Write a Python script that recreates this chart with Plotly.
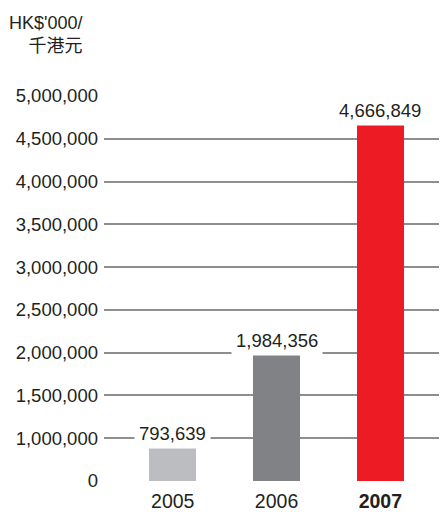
import plotly.graph_objects as go

# data
years = ['2005', '2006', '2007']
revenue = [793639, 1984356, 4666849]  # HK$'000
bar_colors = ['#BCBDC0', '#808285', '#ED1C24']
tick_values = [0, 1000000, 1500000, 2000000, 2500000, 3000000, 3500000, 4000000, 4500000, 5000000]
tick_labels = ['0', '1,000,000', '1,500,000', '2,000,000', '2,500,000', '3,000,000',
               '3,500,000', '4,000,000', '4,500,000', '5,000,000']
year_labels = ['2005', '2006', '<b>2007</b>']


def to_axis(v):
    # broken axis: 0-1,000,000 takes one step, then one step per 500,000
    if v <= 1000000:
        return v / 1000000
    return 1 + (v - 1000000) / 500000


FONT = 'Liberation Sans, Arial, Helvetica, sans-serif'
TEXT_COLOR = '#231F20'

ys = [to_axis(v) for v in revenue]

fig = go.Figure()
fig.add_trace(
    go.Bar(
        x=[0, 1, 2],
        y=ys,
        width=0.454,
        marker=dict(color=bar_colors, line=dict(width=0)),
        hoverinfo='skip',
    )
)

for i, (v, y) in enumerate(zip(revenue, ys)):
    fig.add_annotation(
        x=i, y=y, yshift=14, text=f'{v:,}', showarrow=False,
        xanchor='center', yanchor='middle',
        font=dict(family=FONT, size=18.5, color=TEXT_COLOR),
        bgcolor='white', borderpad=4,
    )

# axis unit, top left
fig.add_annotation(
    xref='paper', yref='paper', x=-0.055, y=1.0, yshift=38,
    text="HK$'000/<br>千港元", showarrow=False, align='right',
    xanchor='right', yanchor='bottom',
    font=dict(family=FONT + ', Noto Sans CJK TC', size=18, color=TEXT_COLOR),
)

# the page body has an 8px margin, so the figure is drawn 8px smaller
fig.update_layout(
    width=439, height=504,
    margin=dict(l=96, r=0, t=88, b=31),
    paper_bgcolor='white', plot_bgcolor='white',
    showlegend=False,
    bargap=0,
    xaxis=dict(
        range=[-0.662, 2.642],
        tickvals=[0, 1, 2], ticktext=year_labels,
        showgrid=False, zeroline=False, showline=False, ticks='',
        tickfont=dict(family=FONT, size=19.5, color=TEXT_COLOR),
        ticklabelstandoff=6, automargin=False,
        fixedrange=True,
    ),
    yaxis=dict(
        range=[0, 9],
        tickvals=[to_axis(t) for t in tick_values], ticktext=tick_labels,
        showgrid=True, gridcolor='#8E8E8E', gridwidth=1.5,
        zeroline=False, showline=False, ticks='',
        tickfont=dict(family=FONT, size=18.5, color=TEXT_COLOR),
        ticklabelstandoff=5, automargin=False,
        fixedrange=True,
    ),
)

fig.write_html('out.html')
